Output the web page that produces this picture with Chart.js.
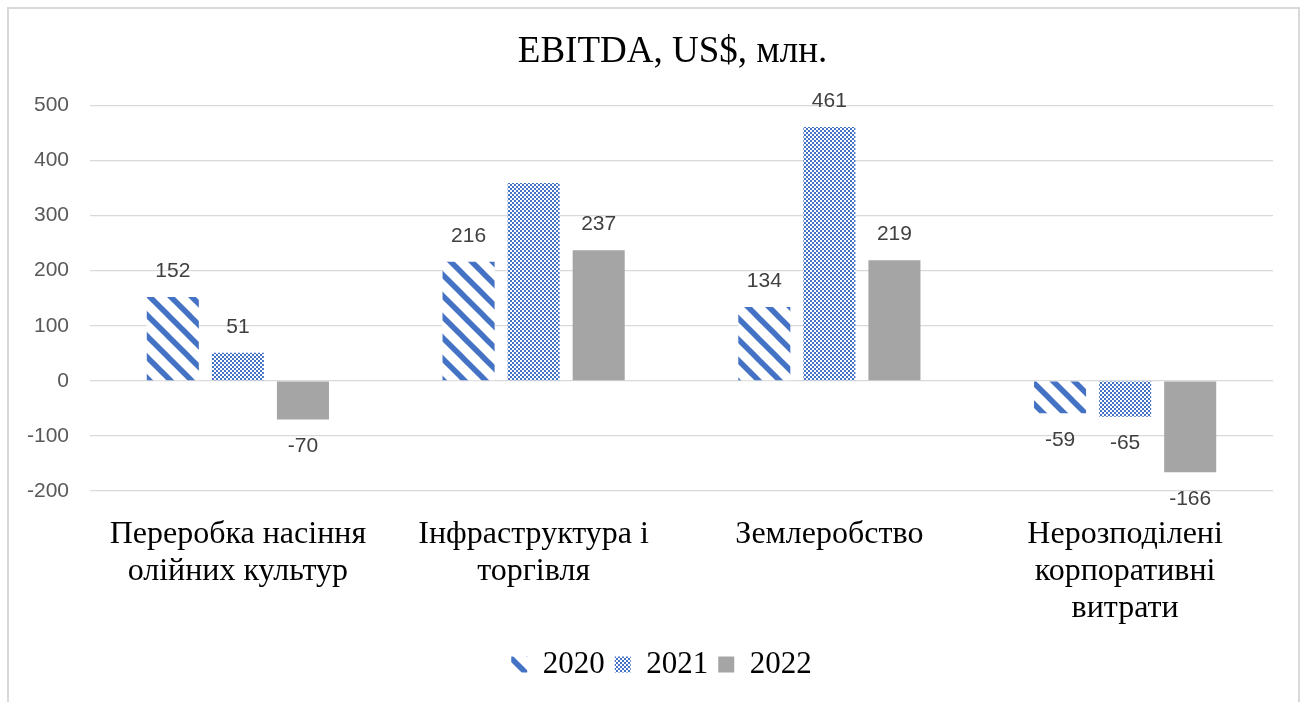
<!DOCTYPE html>
<html>
<head>
<meta charset="utf-8">
<title>EBITDA</title>
<script src="https://cdn.jsdelivr.net/npm/chart.js@4.4.1/dist/chart.umd.min.js"></script>
<style>
  html, body { margin: 0; padding: 0; background: #fff; overflow: hidden; }
  #wrap { position: relative; width: 1306px; height: 702px; }
  #frame {
    position: absolute; left: 7px; top: 7px; width: 1293px; height: 760px;
    border: 2px solid #d9d9d9; box-sizing: border-box; pointer-events: none;
  }
</style>
</head>
<body>
<div id="wrap">
  <canvas id="ebitdaChart"></canvas>
  <div id="frame"></div>
</div>
<script>
// Chart data
const categories = [
    ['Переробка насіння', 'олійних культур'],
    ['Інфраструктура і', 'торгівля'],
    'Землеробство',
    ['Нерозподілені', 'корпоративні', 'витрати']
];
const years = ['2020', '2021', '2022'];
const values2020 = [152, 216, 134, -59];
const values2021 = [51, 359, 461, -65];
const values2022 = [-70, 237, 219, -166];
// the original has no value label on 2021 / Інфраструктура
const hiddenLabels = [[1, 1]];
const yMin = -200;
const yMax = 500;
const yStep = 100;

const BLUE = '#4472C4';
const GREY = '#A5A5A5';

// wide downward diagonal
function stripePattern() {
    const s = 21;
    const c = document.createElement('canvas');
    c.width = s; c.height = s;
    const ctx = c.getContext('2d');
    ctx.fillStyle = '#fff';
    ctx.fillRect(0, 0, s, s);
    ctx.strokeStyle = BLUE;
    ctx.lineWidth = 5.5;
    [-s, 0, s].forEach(k => {
        ctx.beginPath();
        ctx.moveTo(k - 2, -2);
        ctx.lineTo(k + s + 2, s + 2);
        ctx.stroke();
    });
    return ctx.createPattern(c, 'repeat');
}

// small diamond lattice, 2px cells
function latticePattern() {
    const cell = 2, n = 6;
    const c = document.createElement('canvas');
    c.width = cell * n; c.height = cell * n;
    const ctx = c.getContext('2d');
    ctx.fillStyle = '#fff';
    ctx.fillRect(0, 0, c.width, c.height);
    ctx.fillStyle = BLUE;
    for (let y = 0; y < n; y++) {
        for (let x = 0; x < n; x++) {
            const centre = (x === 0 && y === 0) || (x === 3 && y === 3);
            if ((x + y) % 2 === 1 && !centre) ctx.fillRect(x * cell, y * cell, cell, cell);
        }
    }
    return ctx.createPattern(c, 'repeat');
}

// value labels at the end of each bar
const barLabels = {
    id: 'barLabels',
    afterDatasetsDraw(chart) {
        const ctx = chart.ctx;
        ctx.save();
        ctx.font = '21px "Liberation Sans", Arial, sans-serif';
        ctx.fillStyle = '#404040';
        ctx.textAlign = 'center';
        ctx.textBaseline = 'middle';
        chart.data.datasets.forEach((ds, di) => {
            const meta = chart.getDatasetMeta(di);
            meta.data.forEach((bar, i) => {
                if (hiddenLabels.some(h => h[0] === di && h[1] === i)) return;
                const v = ds.data[i];
                const y = v >= 0 ? bar.y - 26 : bar.y + 27;
                ctx.fillText(String(v), bar.x, y);
            });
        });
        ctx.restore();
    }
};

// title and legend sit a little right of the canvas centre in the original
const nudgeBlocks = {
    id: 'nudgeBlocks',
    afterLayout(chart) {
        if (chart.titleBlock) {
            chart.titleBlock.left += 36;
            chart.titleBlock.right += 36;
        }
        if (chart.legend) {
            chart.legend.left += 25;
            chart.legend.right += 25;
        }
    }
};

const ctxEl = document.getElementById('ebitdaChart');
new Chart(ctxEl, {
    type: 'bar',
    data: {
        labels: categories,
        datasets: [
            { label: years[0], data: values2020, backgroundColor: stripePattern() },
            { label: years[1], data: values2021, backgroundColor: latticePattern() },
            { label: years[2], data: values2022, backgroundColor: GREY }
        ]
    },
    options: {
        responsive: true,
        maintainAspectRatio: false,
        animation: false,
        categoryPercentage: 0.66,
        barPercentage: 0.8,
        layout: {
            padding: { left: 0, right: 33, top: 0, bottom: 12 }
        },
        plugins: {
            title: {
                display: true,
                text: 'EBITDA, US$, млн.',
                color: '#000',
                font: { family: '"Liberation Serif", "Times New Roman", serif', size: 37, weight: 'normal' },
                padding: { top: 30, bottom: 31 }
            },
            legend: {
                position: 'bottom',
                labels: {
                    color: '#000',
                    boxWidth: 16,
                    boxHeight: 16,
                    padding: 10,
                    font: { family: '"Liberation Serif", "Times New Roman", serif', size: 31 }
                }
            },
            tooltip: { enabled: false }
        },
        scales: {
            x: {
                grid: { display: false },
                border: { display: false },
                ticks: {
                    color: '#000',
                    padding: 17,
                    maxRotation: 0,
                    font: { family: '"Liberation Serif", "Times New Roman", serif', size: 32, lineHeight: 1.16 }
                },
                afterFit(scale) { scale.height = 148; }
            },
            y: {
                min: yMin,
                max: yMax,
                grid: { color: '#d9d9d9', lineWidth: 1.3, drawTicks: false },
                border: { display: false },
                ticks: {
                    stepSize: yStep,
                    color: '#595959',
                    padding: 21,
                    font: { family: '"Liberation Sans", Arial, sans-serif', size: 21 }
                },
                afterFit(scale) { scale.width = 90; }
            }
        }
    },
    plugins: [barLabels, nudgeBlocks]
});
</script>
</body>
</html>
